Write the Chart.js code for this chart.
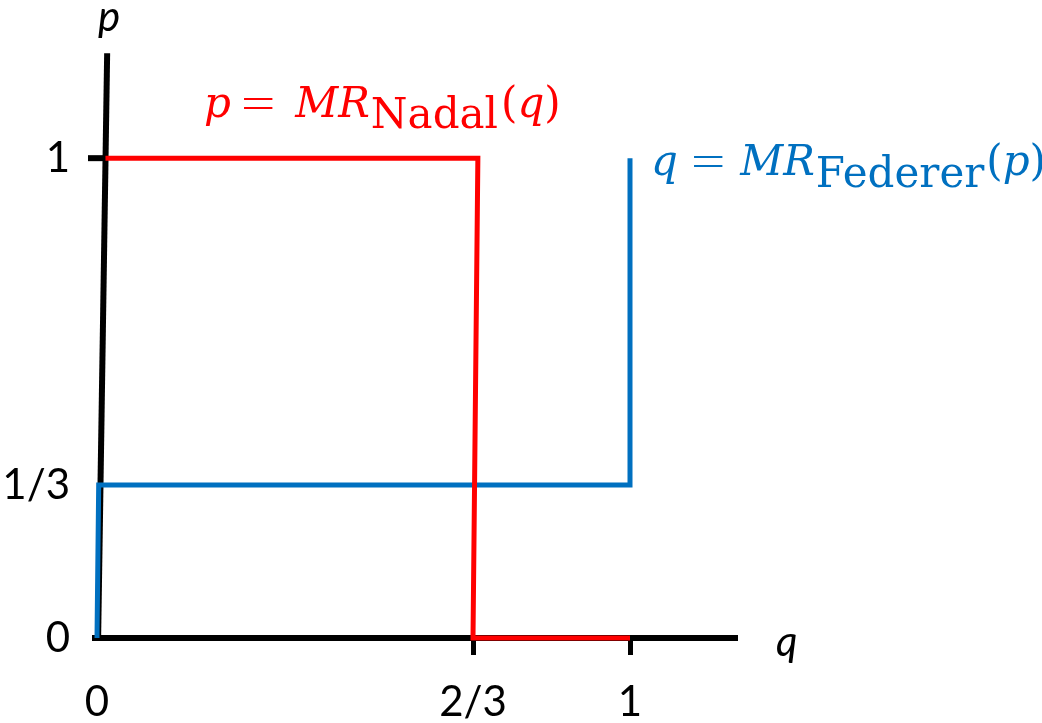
<!DOCTYPE html>
<html>
<head>
<meta charset="utf-8">
<script src="https://cdn.jsdelivr.net/npm/chart.js@4.4.1/dist/chart.umd.min.js"></script>
<style>
  html, body { margin: 0; padding: 0; background: #fff; }
  #wrap { width: 1042px; height: 723px; position: relative; }
</style>
</head>
<body>
<div id="wrap"><canvas id="myChart"></canvas></div>
<script>
// best responses as step lines, x = q, y = p
const nadalQ = [0.015, 0.677, 2 / 3, 1];
const nadalP = [1, 1, 0, 0];
const federerQ = [0, 0.003, 1, 1];
const federerP = [0, 1 / 3, 1 / 3, 1];

// the p axis is drawn by hand, leaning a little to the right
const axisQ = [0.002, 0.018];
const axisP = [0, 1.214];

const qTicks = [0, 2 / 3, 1];
const qTickLabels = ['0', '2/3', '1'];
const pTicks = [0, 1 / 3, 1];
const pTickLabels = ['0', '1/3', '1'];

const RED = '#FF0000';
const BLUE = '#0070C0';

// linear scale that is stretched piecewise between knots [value, decimal]
class KnotScale extends Chart.LinearScale {
  static id = 'knot';
  static defaults = Chart.LinearScale.defaults;

  toDecimal(v) {
    const k = this.options.knots;
    let i = 0;
    while (i < k.length - 2 && v > k[i + 1][0]) i++;
    const [v0, d0] = k[i];
    const [v1, d1] = k[i + 1];
    return d0 + (v - v0) * (d1 - d0) / (v1 - v0);
  }
  getPixelForValue(v) {
    return this.getPixelForDecimal(this.toDecimal(v));
  }
  getValueForPixel(px) {
    const d = this.getDecimalForPixel(px);
    const k = this.options.knots;
    let i = 0;
    while (i < k.length - 2 && d > k[i + 1][1]) i++;
    const [v0, d0] = k[i];
    const [v1, d1] = k[i + 1];
    return v0 + (d - d0) * (v1 - v0) / (d1 - d0);
  }
}
Chart.register(KnotScale);

const pts = (xs, ys) => xs.map((x, i) => ({ x: x, y: ys[i] }));

// equation text: italic symbols, upright names, a long thin equals sign
function drawMath(ctx, parts, x, y, color) {
  ctx.fillStyle = color;
  ctx.textBaseline = 'alphabetic';
  ctx.textAlign = 'left';
  for (const p of parts) {
    if (p.eq) {
      ctx.font = '42px "Liberation Serif"';
      const w = ctx.measureText(p.t).width * 1.45;
      ctx.save();
      ctx.translate(x, y);
      ctx.scale(1.45, 1);
      ctx.fillText(p.t, 0, 0);
      ctx.restore();
      x += w + (p.gap || 0);
      continue;
    }
    ctx.font = (p.i ? 'italic ' : '') + '42px "DejaVu Serif"';
    ctx.fillText(p.t, x, y + (p.dy || 0));
    x += ctx.measureText(p.t).width + (p.gap || 0);
  }
}

const sketchText = {
  id: 'sketchText',
  afterDatasetsDraw(chart) {
    const { ctx, scales: { x, y } } = chart;
    ctx.save();

    // short tick on the p axis at p = 1
    const y1 = y.getPixelForValue(1);
    ctx.strokeStyle = '#000';
    ctx.lineWidth = 6;
    ctx.beginPath();
    ctx.moveTo(x.getPixelForValue(0) - 9, y1);
    ctx.lineTo(x.getPixelForValue(0.013), y1);
    ctx.stroke();

    // axis names
    ctx.fillStyle = '#000';
    ctx.font = 'italic 42px Lato';
    ctx.textBaseline = 'alphabetic';
    ctx.fillText('p', 98, 31);
    ctx.fillText('q', 776, 656);

    drawMath(ctx, [
      { t: 'p', i: true, gap: 10 },
      { t: '=', eq: true, gap: 20 },
      { t: 'MR', i: true, gap: 1 },
      { t: 'Nadal', dy: 11, gap: 3 },
      { t: '(' },
      { t: 'q', i: true },
      { t: ')' }
    ], 204, 117, RED);

    drawMath(ctx, [
      { t: 'q', i: true, gap: 13 },
      { t: '=', eq: true, gap: 15 },
      { t: 'MR', i: true, gap: 1 },
      { t: 'Federer', dy: 12, gap: 2 },
      { t: '(' },
      { t: 'p', i: true },
      { t: ')' }
    ], 651, 175, BLUE);

    ctx.restore();
  }
};

const ctx = document.getElementById('myChart');

new Chart(ctx, {
  type: 'line',
  data: {
    datasets: [
      {
        label: 'p = MR Nadal(q)',
        data: pts(nadalQ, nadalP),
        borderColor: RED,
        borderWidth: 5,
        pointRadius: 0,
        clip: false
      },
      {
        label: 'q = MR Federer(p)',
        data: pts(federerQ, federerP),
        borderColor: BLUE,
        borderWidth: 5,
        pointRadius: 0,
        clip: false
      },
      {
        label: 'p axis',
        data: pts(axisQ, axisP),
        borderColor: '#000',
        borderWidth: 6,
        pointRadius: 0,
        clip: false
      }
    ]
  },
  options: {
    responsive: true,
    maintainAspectRatio: false,
    animation: false,
    events: [],
    layout: { padding: { top: 40, right: 307, left: 0, bottom: 0 } },
    plugins: {
      legend: { display: false },
      tooltip: { enabled: false }
    },
    scales: {
      x: {
        type: 'knot',
        min: 0,
        max: 1.2,
        knots: [[0, 2 / 640], [2 / 3, 378 / 640], [1, 535 / 640]],
        afterBuildTicks: s => { s.ticks = qTicks.map(v => ({ value: v })); },
        afterFit: s => { s.height = 85; },
        border: { display: true, color: '#000', width: 6 },
        grid: {
          drawOnChartArea: false,
          drawTicks: true,
          tickLength: 17,
          lineWidth: 5,
          color: c => (c.tick && c.tick.value === 0 ? 'rgba(0,0,0,0)' : '#000')
        },
        ticks: {
          autoSkip: false,
          maxRotation: 0,
          padding: 22,
          color: '#000',
          font: { family: 'Lato', size: 42 },
          callback: (v, i) => qTickLabels[i]
        }
      },
      y: {
        type: 'knot',
        min: 0,
        max: 1.3,
        knots: [[0, 0], [1 / 3, 153 / 588], [1, 480 / 588]],
        afterBuildTicks: s => { s.ticks = pTicks.map(v => ({ value: v })); },
        afterFit: s => { s.width = 95; },
        border: { display: false },
        grid: { display: false, drawTicks: false },
        ticks: {
          autoSkip: false,
          padding: 25,
          color: '#000',
          font: { family: 'Lato', size: 42 },
          callback: (v, i) => pTickLabels[i]
        }
      }
    }
  },
  plugins: [sketchText]
});
</script>
</body>
</html>
